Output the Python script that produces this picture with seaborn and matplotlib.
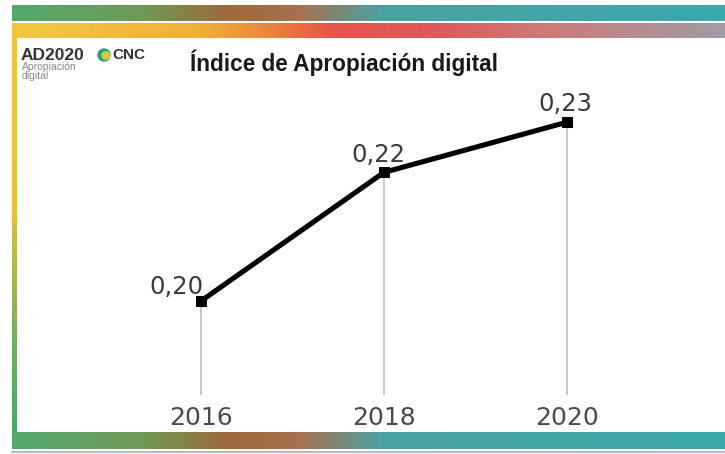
"""
plot.py - Índice de Apropiación digital (AD2020 / CNC), 2016-2020.
"""

import numpy as np
import matplotlib
matplotlib.use("Agg")
import matplotlib.pyplot as plt
from matplotlib.colors import LinearSegmentedColormap
from matplotlib.patches import Circle
import seaborn as sns

# Chart data
years = [2016, 2018, 2020]
index_values = [0.2015, 0.2215, 0.2293]
value_labels = ["0,20", "0,22", "0,23"]
title_text = "Índice de Apropiación digital"

W, H = 725, 454

sns.set_theme(style="white")
plt.rcParams["font.family"] = ["DejaVu Sans"]

fig = plt.figure(figsize=(W / 100, H / 100), dpi=100)
fig.patch.set_facecolor("white")

# Background axes in pixel coordinates for the decorative frame
bg = fig.add_axes([0, 0, 1, 1])
bg.set_xlim(0, W)
bg.set_ylim(H, 0)
bg.axis("off")


def gradient_band(ax, stops, extent, vertical=False):
    """Draw a gradient rectangle; stops is a list of (pos, colour)."""
    cmap = LinearSegmentedColormap.from_list("band", stops)
    grad = np.linspace(0, 1, 256)
    img = grad[:, None] if vertical else grad[None, :]
    ax.imshow(img, cmap=cmap, extent=extent, aspect="auto",
              origin="upper", interpolation="bilinear", zorder=1)


green_teal = [(0.0, "#52a86c"), (0.18, "#6e9a58"), (0.30, "#9c6a3c"),
              (0.40, "#a8704e"), (0.52, "#4aa2a2"), (1.0, "#3aa8ac")]
yellow_red = [(0.0, "#f2c842"), (0.26, "#f0b038"), (0.35, "#ec8a3c"),
              (0.45, "#e65448"), (0.60, "#de5a5c"), (0.75, "#cc7a7a"),
              (1.0, "#a09ca4")]

# top bands, left strip, bottom band
gradient_band(bg, green_teal, (12, W, 21, 5))
gradient_band(bg, yellow_red, (12, W, 38, 23))
gradient_band(bg, [(0.0, "#f0c440"), (0.45, "#e8c040"), (0.75, "#7ab060"),
                   (1.0, "#4aa86a")], (12, 17, 432, 23), vertical=True)
gradient_band(bg, green_teal, (12, W, 449, 432))
bg.plot([12, W], [452, 452], color="#b8b8c0", lw=1.5, zorder=2)

# logo block
logo_font = ["Liberation Sans", "DejaVu Sans"]
bg.text(21, 55, "AD2020", fontsize=12.5, fontweight="bold", color="#333333",
        family=logo_font, va="center", ha="left")
bg.text(22, 67, "Apropiación", fontsize=7.5, color="#8a8a8a",
        family=logo_font, va="center", ha="left")
bg.text(22, 76, "digital", fontsize=7.5, color="#8a8a8a",
        family=logo_font, va="center", ha="left")
bg.add_patch(Circle((104, 55), 6, color="#2e9a78", zorder=3))
bg.add_patch(Circle((105.8, 55.5), 3.8, color="#c8d040", zorder=4))
bg.text(112, 55, "CNC", fontsize=11, fontweight="bold", color="#333333",
        family=logo_font, va="center", ha="left")

bg.text(190, 63, title_text, fontsize=16.3, fontweight="bold",
        color="#1a1a1a", family=logo_font, va="center", ha="left")

# Data axes: placed so the plot area runs from px 150..620 (x), 90..395 (y)
ax = fig.add_axes([150 / W, (H - 395) / H, 470 / W, 305 / H])
ax.patch.set_alpha(0)
ax.set_xlim(2015.443, 2020.58)
ax.set_ylim(0.1869, 0.2343)

ylo = ax.get_ylim()[0]
ax.vlines(years, ylo, index_values, color="#c4c4c4", lw=1.3, zorder=1)

sns.lineplot(x=years, y=index_values, ax=ax, color="black", lw=3.7,
             marker="s", markersize=7.5, markeredgecolor="black",
             markerfacecolor="black", zorder=3)

offsets = [(-25, 14), (-6, 17), (-2, 18)]
for x, y, lab, off in zip(years, index_values, value_labels, offsets):
    ax.annotate(lab, (x, y), xytext=off, textcoords="offset pixels",
                ha="center", va="center", fontsize=17.5, color="#3a3a3a")

ax.set_xticks(years)
ax.set_xticklabels([str(y) for y in years], fontsize=18, color="#4a4a4a")
ax.tick_params(axis="x", length=0, pad=8)
ax.set_yticks([])
ax.set_xlabel("")
ax.set_ylabel("")
for s in ax.spines.values():
    s.set_visible(False)

fig.savefig("out.png", dpi=100)
